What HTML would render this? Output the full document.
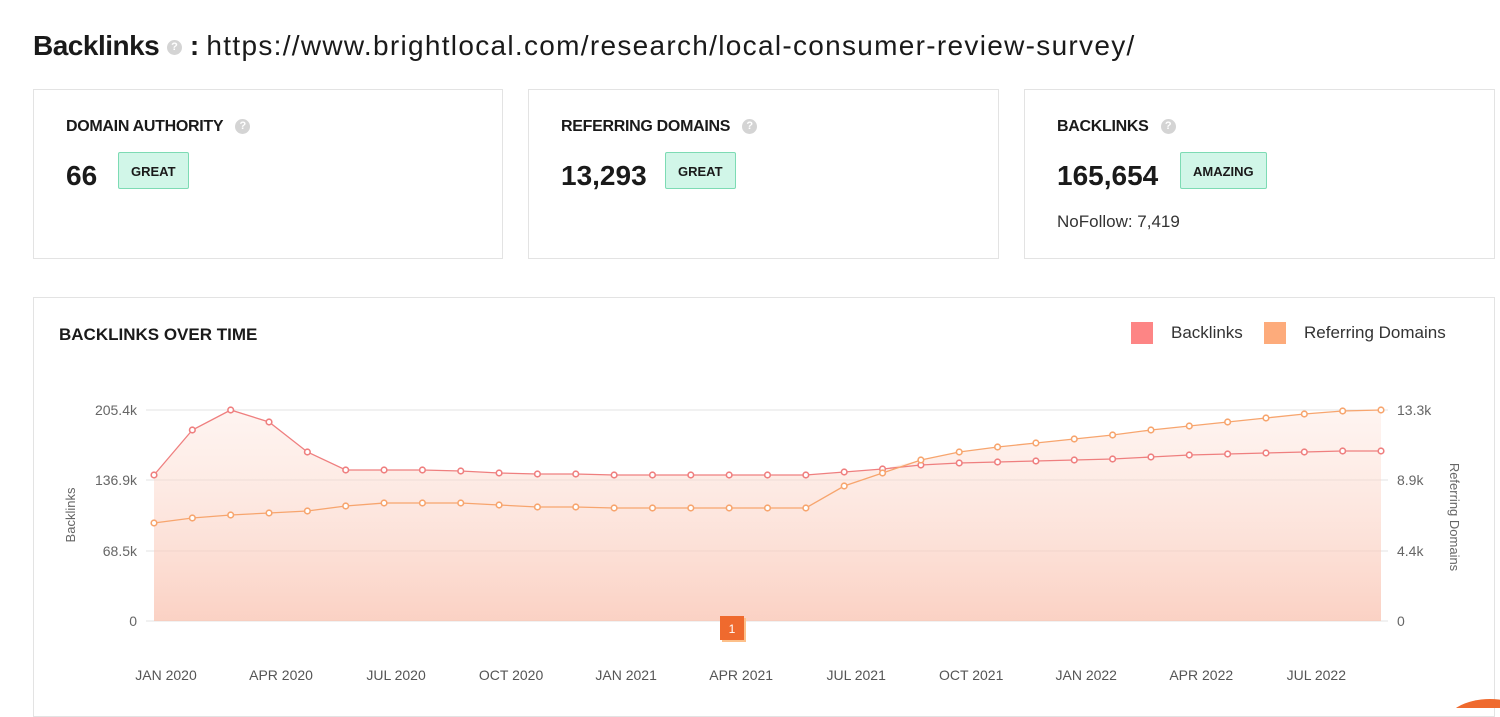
<!DOCTYPE html>
<html><head><meta charset="utf-8"><style>
body{margin:0;width:1500px;height:708px;background:#fff;font-family:"Liberation Sans",sans-serif;position:relative;overflow:hidden;color:#1a1a1a}
.h{position:absolute;left:33px;top:30px;font-size:28px;white-space:nowrap}
.h b{font-weight:700;letter-spacing:-0.5px}
.u{letter-spacing:1.3px}
.q{display:inline-block;width:15px;height:15px;border-radius:50%;background:#d4d4d4;color:#fff;font-size:11px;text-align:center;line-height:15px;vertical-align:middle;font-weight:bold}
.card{position:absolute;top:89px;height:170px;border:1px solid #e3e3e3;box-sizing:border-box}
.t{position:absolute;left:32px;top:28px;font-weight:700;font-size:16px;letter-spacing:-0.3px}
.t .q{margin-left:12px}
.v{position:absolute;left:32px;top:70px;font-weight:700;font-size:28px}
.badge{position:absolute;top:62px;height:37px;border:1px solid #7ddbb4;background:#d1f6e8;border-radius:2px;font-size:13px;font-weight:700;line-height:37px;padding:0 12px;box-sizing:border-box}
.nf{position:absolute;left:32px;top:122px;font-size:17px;color:#333}
.chart{position:absolute;left:33px;top:297px;width:1462px;height:420px;border:1px solid #e3e3e3;box-sizing:border-box}
</style></head><body>
<div class="h"><b>Backlinks</b> <span class="q">?</span> <b>:</b> <span class="u">https://www.brightlocal.com/research/local-consumer-review-survey/</span></div>
<div class="card" style="left:33px;width:470px"><div class="t">DOMAIN AUTHORITY<span class="q">?</span></div><div class="v">66</div><div class="badge" style="left:84px">GREAT</div></div>
<div class="card" style="left:528px;width:471px"><div class="t">REFERRING DOMAINS<span class="q">?</span></div><div class="v">13,293</div><div class="badge" style="left:136px">GREAT</div></div>
<div class="card" style="left:1024px;width:471px"><div class="t">BACKLINKS<span class="q">?</span></div><div class="v">165,654</div><div class="badge" style="left:155px">AMAZING</div><div class="nf">NoFollow: 7,419</div></div>
<div class="chart"></div>
<svg id="s" width="1500" height="708" style="position:absolute;left:0;top:0" font-family="Liberation Sans, sans-serif"></svg>
<script>
(function(){
var b=[475,430,410,422,452,470,470,470,471,473,474,474,475,475,475,475,475,475,472,469,465,463,462,461,460,459,457,455,454,453,452,451,451];
var r=[523,518,515,513,511,506,503,503,503,505,507,507,508,508,508,508,508,508,486,473,460,452,447,443,439,435,430,426,422,418,414,411,410];
var X=function(i){return 154+i*1227/32;};
var s='<defs><linearGradient id="g" x1="0" y1="0" x2="0" y2="1"><stop offset="0" stop-color="#fde0d6" stop-opacity="0.35"/><stop offset="1" stop-color="#f9c2b0" stop-opacity="0.75"/></linearGradient></defs>';
s+='<text x="59" y="340" font-size="17" font-weight="bold" fill="#1a1a1a">BACKLINKS OVER TIME</text>';
s+='<rect x="1131" y="322" width="22" height="22" fill="#fd8585"/><text x="1171" y="338" font-size="17" fill="#333">Backlinks</text>';
s+='<rect x="1264" y="322" width="22" height="22" fill="#fdab7b"/><text x="1304" y="338" font-size="17" fill="#333">Referring Domains</text>';
var gl=[[410,'205.4k','13.3k'],[480,'136.9k','8.9k'],[551,'68.5k','4.4k'],[621,'0','0']];
gl.forEach(function(g){s+='<line x1="146" x2="1388" y1="'+g[0]+'" y2="'+g[0]+'" stroke="#e3e3e3"/>';s+='<text x="137" y="'+(g[0]+5)+'" font-size="14" fill="#666" text-anchor="end">'+g[1]+'</text><text x="1397" y="'+(g[0]+5)+'" font-size="14" fill="#666">'+g[2]+'</text>';});
var tp=b.map(function(v,i){return Math.min(v,r[i]);});
var p='M'+X(0)+',621 '+tp.map(function(v,i){return 'L'+X(i)+','+v;}).join(' ')+' L'+X(32)+',621Z';
s+='<path d="'+p+'" fill="url(#g)"/>';
[[b,'#ef7f7f'],[r,'#f7a56e']].forEach(function(a){s+='<polyline fill="none" stroke="'+a[1]+'" stroke-width="1.3" points="'+a[0].map(function(v,i){return X(i)+','+v;}).join(' ')+'"/>';a[0].forEach(function(v,i){s+='<circle cx="'+X(i)+'" cy="'+v+'" r="2.8" fill="#fff" stroke="'+a[1]+'" stroke-width="1.6"/>';});});
s+='<text transform="translate(75,515) rotate(-90)" font-size="13" fill="#666" text-anchor="middle">Backlinks</text>';
s+='<text transform="translate(1450,517) rotate(90)" font-size="13" fill="#666" text-anchor="middle">Referring Domains</text>';
['JAN 2020','APR 2020','JUL 2020','OCT 2020','JAN 2021','APR 2021','JUL 2021','OCT 2021','JAN 2022','APR 2022','JUL 2022'].forEach(function(t,k){s+='<text x="'+(166+k*115.03)+'" y="680" font-size="14" fill="#555" text-anchor="middle">'+t+'</text>';});
s+='<rect x="722" y="618" width="24" height="24" fill="#fdc08a"/><rect x="720" y="616" width="24" height="24" fill="#ef6a2e"/><text x="732" y="633" font-size="12" fill="#fff" text-anchor="middle">1</text>';
s+='<ellipse cx="1490" cy="725" rx="45" ry="26" fill="#ef6a2e"/>';
document.getElementById('s').innerHTML=s;
})();
</script>
</body></html>
